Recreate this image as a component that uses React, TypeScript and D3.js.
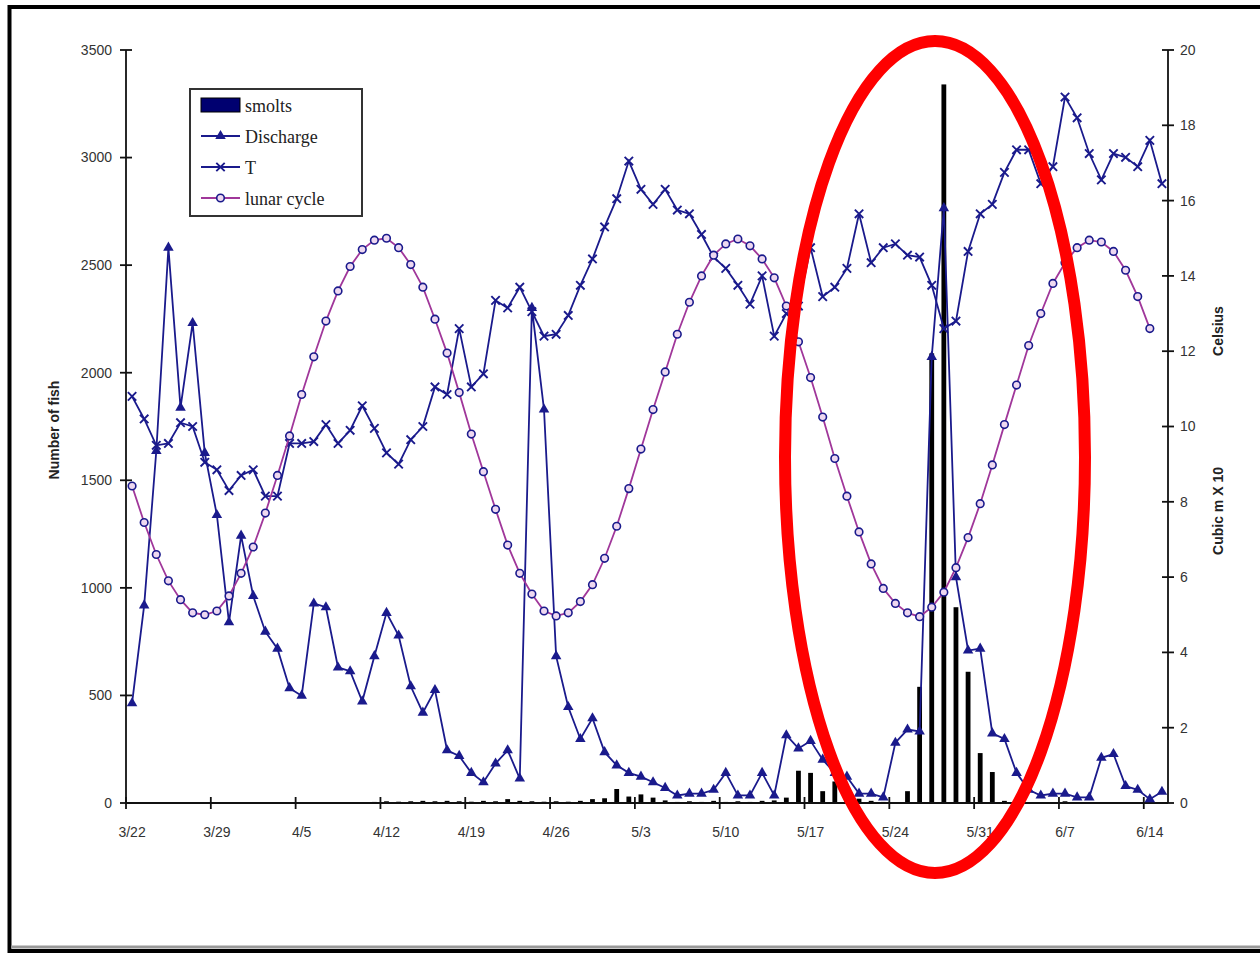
import React from "react";
import * as d3 from "d3";

// daily values, 3/22 .. 6/15
const startDate = new Date(2000, 2, 22);
const days = d3.timeDay.range(startDate, new Date(2000, 5, 16));
const tickLabels = ["3/22", "3/29", "4/5", "4/12", "4/19", "4/26", "5/3", "5/10", "5/17", "5/24", "5/31", "6/7", "6/14"];

// number of fish (left axis)
const smolts = [
  0, 0, 0, 0, 0, 0, 0, 0, 0, 4, 0, 4, 0, 0, 0, 0, 0, 0, 4, 0,
  5, 8, 6, 8, 10, 8, 10, 8, 6, 10, 8, 18, 10, 8, 6, 8, 6, 10, 18, 22,
  65, 30, 40, 25, 12, 5, 8, 5, 10, 5, 8, 5, 10, 12, 25, 150, 140, 55, 100, 75,
  20, 10, 5, 0, 55, 540, 2090, 3340, 910, 610, 232, 144, 10, 0, 0, 0, 0, 8, 0, 0,
  0, 0, 0, 0, 0, 0,
];

// cubic m x 10 (right axis)
const discharge = [
  2.65, 5.25, 9.35, 14.75, 10.5, 12.75, 9.3, 7.65, 4.8, 7.1, 5.5, 4.55, 4.1, 3.05, 2.85, 5.3, 5.2, 3.6, 3.5, 2.7,
  3.9, 5.05, 4.45, 3.1, 2.4, 3.0, 1.4, 1.25, 0.8, 0.55, 1.05, 1.4, 0.65, 13.15, 10.45, 3.9, 2.55, 1.7, 2.25, 1.35,
  1.0, 0.8, 0.7, 0.55, 0.4, 0.2, 0.25, 0.25, 0.35, 0.8, 0.2, 0.2, 0.8, 0.2, 1.8, 1.45, 1.65, 1.15, 0.8, 0.7,
  0.25, 0.25, 0.15, 1.6, 1.95, 1.9, 11.85, 15.8, 6.0, 4.05, 4.1, 1.85, 1.7, 0.8, 0.35, 0.2, 0.25, 0.25, 0.15, 0.15,
  1.2, 1.3, 0.45, 0.35, 0.1, 0.3,
];

// Celsius (right axis)
const temperature = [
  10.8, 10.2, 9.5, 9.55, 10.1, 10.0, 9.05, 8.85, 8.3, 8.7, 8.85, 8.15, 8.15, 9.55, 9.55, 9.6, 10.05, 9.55, 9.9, 10.55,
  9.95, 9.3, 9.0, 9.65, 10.0, 11.05, 10.85, 12.6, 11.05, 11.4, 13.35, 13.15, 13.7, 13.05, 12.4, 12.45, 12.95, 13.75, 14.45, 15.3,
  16.05, 17.05, 16.3, 15.9, 16.3, 15.75, 15.65, 15.1, 14.5, 14.2, 13.75, 13.25, 14.0, 12.4, 13.0, 13.2, 14.75, 13.45, 13.7, 14.2,
  15.65, 14.35, 14.75, 14.85, 14.55, 14.5, 13.75, 12.6, 12.8, 14.65, 15.65, 15.9, 16.75, 17.35, 17.35, 16.45, 16.9, 18.75, 18.2, 17.25,
  16.55, 17.25, 17.15, 16.9, 17.6, 16.45,
];

// lunar cycle (right axis)
const lunar = [
  8.42, 7.45, 6.6, 5.9, 5.4, 5.05, 5.0, 5.1, 5.5, 6.1, 6.8, 7.7, 8.7, 9.75, 10.85, 11.85, 12.8, 13.6, 14.25, 14.7,
  14.95, 15.0, 14.75, 14.3, 13.7, 12.85, 11.95, 10.9, 9.8, 8.8, 7.8, 6.85, 6.1, 5.55, 5.1, 4.97, 5.05, 5.35, 5.8, 6.5,
  7.35, 8.35, 9.4, 10.45, 11.45, 12.45, 13.3, 14.0, 14.55, 14.85, 14.98, 14.8, 14.45, 13.95, 13.2, 12.25, 11.3, 10.25, 9.15, 8.15,
  7.2, 6.35, 5.7, 5.3, 5.05, 4.95, 5.2, 5.6, 6.25, 7.05, 7.95, 8.98, 10.05, 11.1, 12.15, 13.0, 13.8, 14.35, 14.75, 14.95,
  14.9, 14.65, 14.15, 13.45, 12.6,
];

const leftTicks = [0, 500, 1000, 1500, 2000, 2500, 3000, 3500];
const rightTicks = [0, 2, 4, 6, 8, 10, 12, 14, 16, 18, 20];

const W = 1260;
const H = 956;
const left = 126;
const right = 1168;
const top = 50;
const bottom = 803;

const navy = "#1a1a8c";
const lunarColor = "#a0379a";
const sans = "'Liberation Sans', Arial, sans-serif";
const serif = "'Liberation Serif', 'Times New Roman', serif";

const x = d3.scaleBand<number>().domain(d3.range(days.length)).range([left, right]);
const cx = (i: number) => (x(i) as number) + x.bandwidth() / 2;
const yL = d3.scaleLinear().domain([0, 3500]).range([bottom, top]);
const yR = d3.scaleLinear().domain([0, 20]).range([bottom, top]);

const tri = d3.symbol(d3.symbolTriangle, 48)() as string;

const lineR = d3
  .line<number>()
  .x((_, i) => cx(i))
  .y((d) => yR(d));

function Cross({ x0, y0 }: { x0: number; y0: number }) {
  return <path d="M-4.2,-4.2L4.2,4.2M-4.2,4.2L4.2,-4.2" transform={`translate(${x0},${y0})`} stroke={navy} strokeWidth={1.9} fill="none" />;
}

export default function App() {
  const barW = 4.8;
  return (
    <svg width={W} height={H} style={{ position: "absolute", left: 0, top: 0, background: "#fff" }}>
      {/* frame */}
      <rect x={9.5} y={7} width={1300} height={944} fill="none" stroke="#000" strokeWidth={4} />
      <line x1={11} x2={W} y1={947} y2={947} stroke="#999" strokeWidth={3} />

      {/* smolts bars */}
      {smolts.map((v, i) =>
        v > 0 ? (
          <rect key={"b" + i} x={cx(i) - barW / 2} y={yL(v)} width={barW} height={bottom - yL(v)} fill="#000" />
        ) : null
      )}

      {/* axes */}
      <line x1={left} x2={left} y1={top} y2={bottom} stroke="#111" strokeWidth={1.8} />
      <line x1={right} x2={right} y1={top} y2={bottom} stroke="#111" strokeWidth={1.8} />
      <line x1={left} x2={right} y1={bottom} y2={bottom} stroke="#111" strokeWidth={1.8} />
      {leftTicks.map((t) => (
        <g key={"l" + t}>
          <line x1={left - 6} x2={left + 6} y1={yL(t)} y2={yL(t)} stroke="#111" strokeWidth={1.8} />
          <text x={112} y={yL(t)} dy="0.35em" textAnchor="end" fontFamily={sans} fontSize={14} fill="#333">
            {t}
          </text>
        </g>
      ))}
      {rightTicks.map((t) => (
        <g key={"r" + t}>
          <line x1={right - 6} x2={right + 6} y1={yR(t)} y2={yR(t)} stroke="#111" strokeWidth={1.8} />
          <text x={1180} y={yR(t)} dy="0.35em" textAnchor="start" fontFamily={sans} fontSize={14} fill="#333">
            {t}
          </text>
        </g>
      ))}
      {tickLabels.map((lab, k) => (
        <g key={"x" + lab}>
          <line x1={x(k * 7) as number} x2={x(k * 7) as number} y1={bottom - 6} y2={bottom + 6} stroke="#111" strokeWidth={1.8} />
          <text x={cx(k * 7)} y={837} textAnchor="middle" fontFamily={sans} fontSize={14} fill="#333">
            {lab}
          </text>
        </g>
      ))}

      {/* axis titles */}
      <text transform={`translate(59,430) rotate(-90)`} textAnchor="middle" fontFamily={sans} fontWeight="bold" fontSize={14} fill="#222">
        Number of fish
      </text>
      <text transform={`translate(1223,331) rotate(-90)`} textAnchor="middle" fontFamily={sans} fontWeight="bold" fontSize={14} fill="#222">
        Celsius
      </text>
      <text transform={`translate(1223,511) rotate(-90)`} textAnchor="middle" fontFamily={sans} fontWeight="bold" fontSize={14} fill="#222">
        Cubic m X 10
      </text>

      {/* discharge */}
      <path d={lineR(discharge) as string} fill="none" stroke={navy} strokeWidth={1.8} />
      {discharge.map((v, i) => (
        <path key={"d" + i} d={tri} transform={`translate(${cx(i)},${yR(v)})`} fill={navy} />
      ))}

      {/* temperature */}
      <path d={lineR(temperature) as string} fill="none" stroke={navy} strokeWidth={1.8} />
      {temperature.map((v, i) => (
        <Cross key={"t" + i} x0={cx(i)} y0={yR(v)} />
      ))}

      {/* lunar */}
      <path d={lineR(lunar) as string} fill="none" stroke={lunarColor} strokeWidth={1.8} />
      {lunar.map((v, i) => (
        <circle key={"m" + i} cx={cx(i)} cy={yR(v)} r={3.8} fill="#eed8f0" stroke={navy} strokeWidth={1.6} />
      ))}

      {/* legend */}
      <rect x={190} y={89} width={172} height={127} fill="#fff" stroke="#333" strokeWidth={2} />
      <rect x={201} y={98} width={39} height={14} fill="#000070" stroke="#000" strokeWidth={1} />
      <text x={245} y={106} dy="0.35em" fontFamily={serif} fontSize={18} fill="#222">smolts</text>
      <line x1={201} x2={240} y1={136} y2={136} stroke={navy} strokeWidth={1.8} />
      <path d={tri} transform="translate(220.5,136)" fill={navy} />
      <text x={245} y={137} dy="0.35em" fontFamily={serif} fontSize={18} fill="#222">Discharge</text>
      <line x1={201} x2={240} y1={167} y2={167} stroke={navy} strokeWidth={1.8} />
      <Cross x0={220.5} y0={167} />
      <text x={245} y={168} dy="0.35em" fontFamily={serif} fontSize={18} fill="#222">T</text>
      <line x1={201} x2={240} y1={198} y2={198} stroke={lunarColor} strokeWidth={1.8} />
      <circle cx={220.5} cy={198} r={3.8} fill="#eed8f0" stroke={navy} strokeWidth={1.6} />
      <text x={245} y={199} dy="0.35em" fontFamily={serif} fontSize={18} fill="#222">lunar cycle</text>

      {/* highlight */}
      <ellipse cx={935} cy={457} rx={150} ry={416} fill="none" stroke="#ff0000" strokeWidth={12} />
    </svg>
  );
}
